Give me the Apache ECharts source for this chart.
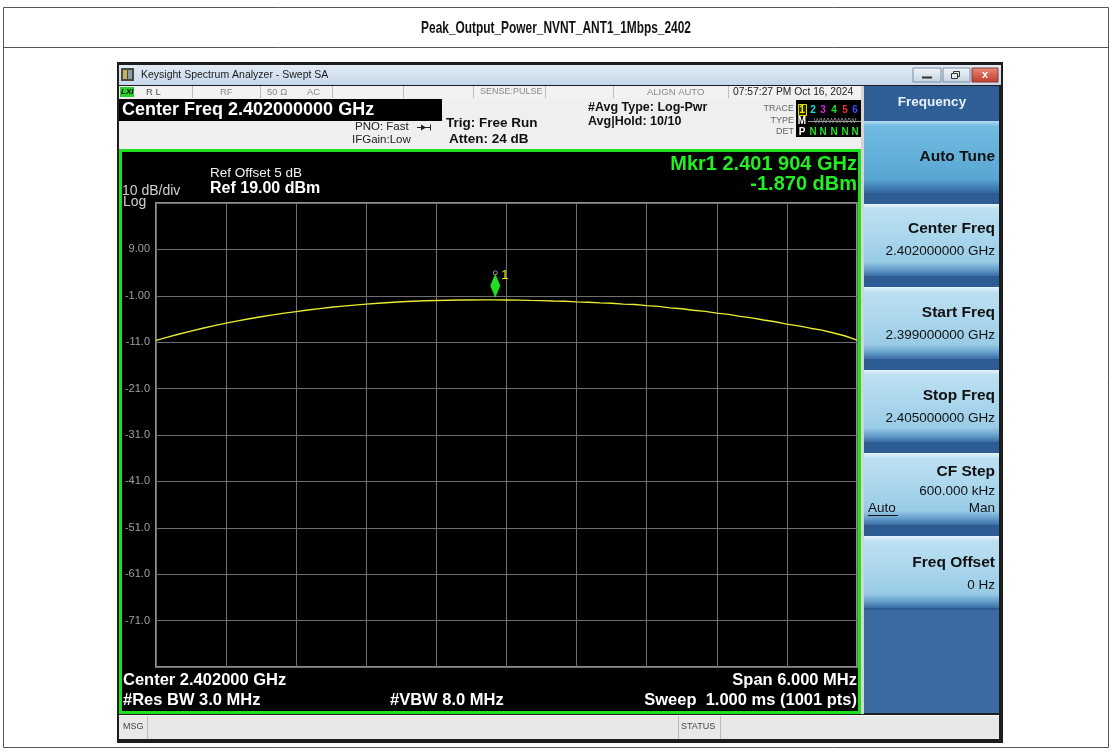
<!DOCTYPE html>
<html><head><meta charset="utf-8">
<script src="https://cdn.jsdelivr.net/npm/echarts@6/dist/echarts.min.js"></script>
<style>html,body{margin:0;padding:0;background:#fff}#c{width:1112px;height:756px}</style>
</head><body><div id="c"></div>
<script>
// ---------------- data ----------------
const chartTitle = 'Peak_Output_Power_NVNT_ANT1_1Mbps_2402';
const freqMHz = [
  2399.0,2399.1,2399.2,2399.3,2399.4,2399.5,2399.6,2399.7,2399.8,2399.9,
  2400.0,2400.1,2400.2,2400.3,2400.4,2400.5,2400.6,2400.7,2400.8,2400.9,
  2401.0,2401.1,2401.2,2401.3,2401.4,2401.5,2401.6,2401.7,2401.8,2401.9,
  2402.0,2402.1,2402.2,2402.3,2402.4,2402.5,2402.6,2402.7,2402.8,2402.9,
  2403.0,2403.1,2403.2,2403.3,2403.4,2403.5,2403.6,2403.7,2403.8,2403.9,
  2404.0,2404.1,2404.2,2404.3,2404.4,2404.5,2404.6,2404.7,2404.8,2404.9,
  2405.0];
const powerDbm = [
  -10.60,-9.91,-9.23,-8.60,-8.00,-7.43,-6.90,-6.40,-5.95,-5.52,
  -5.12,-4.74,-4.40,-4.07,-3.76,-3.48,-3.23,-3.00,-2.80,-2.60,
  -2.43,-2.29,-2.18,-2.08,-2.00,-1.95,-1.92,-1.89,-1.88,-1.87,
  -1.90,-1.93,-1.99,-2.04,-2.13,-2.19,-2.31,-2.38,-2.53,-2.60,
  -2.79,-2.86,-3.12,-3.28,-3.60,-3.78,-4.12,-4.36,-4.74,-5.00,
  -5.44,-5.76,-6.22,-6.58,-7.10,-7.48,-7.98,-8.40,-9.02,-9.66,
  -10.55];
const startFreqMHz = 2399.0;
const stopFreqMHz = 2405.0;
const xDivKHz = 600;
const refLevelDbm = 19;
const dbPerDiv = 10;
const yTickValues = [9, -1, -11, -21, -31, -41, -51, -61, -71];
const yTickLabels = ['9.00','-1.00','-11.0','-21.0','-31.0','-41.0','-51.0','-61.0','-71.0'];
const markerFreqMHz = 2401.904;
const markerPowerDbm = -1.870;

// ---------------- drawing ----------------
const F = '"Liberation Sans", Arial, sans-serif';
const G = [];
function lg(stops){ return new echarts.graphic.LinearGradient(0,0,0,1, stops.map(s=>({offset:s[0], color:s[1]}))); }
function rect(x,y,w,h,fill,stroke,lw,z){ G.push({type:'rect', z: z==null?1:z, silent:true, shape:{x:x,y:y,width:w,height:h}, style:{fill: fill||'none', stroke: stroke||'none', lineWidth: lw||0}}); }
function line(x1,y1,x2,y2,stroke,lw,z){ G.push({type:'line', z: z==null?3:z, silent:true, shape:{x1:x1,y1:y1,x2:x2,y2:y2}, style:{stroke:stroke, lineWidth: lw||1}}); }
function text(t,x,y,size,fill,o){ o=o||{}; G.push({type:'text', z:20, silent:true, x:x, y:y, scaleX:o.sx||1, style:{text:t, x:0, y:0, fill:fill, font:(o.w||'normal')+' '+size+'px '+F, align:o.a||'left', verticalAlign:'middle'}}); }

// page frame + title
rect(3.5, 7.5, 1105, 740, 'none', '#555', 1, 0);
line(3.5, 47.5, 1108.5, 47.5, '#555', 1, 0);
text(chartTitle, 556, 28, 17, '#111', {w:'bold', a:'center', sx:0.70});

// window
rect(117, 62, 886, 681, '#1d1d1d', null, 0, 0);
rect(119, 65, 882, 20, lg([[0,'#e2ebf5'],[1,'#c7d7ea']]));
rect(121, 68, 13, 13, '#4a4a3a'); rect(123, 70, 4, 9, '#c8b060'); rect(128, 70, 4, 9, '#8a9aa8');
text('Keysight Spectrum Analyzer - Swept SA', 141, 75, 10.5, '#1a1a1a');
rect(913, 68, 28, 14, lg([[0,'#f2f6fa'],[1,'#c4d2e2']]), '#7d8ea3', 1, 2);
line(922, 77.5, 932, 77.5, '#333', 2, 4);
rect(943, 68, 27, 14, lg([[0,'#f2f6fa'],[1,'#c4d2e2']]), '#7d8ea3', 1, 2);
rect(953.5, 71.5, 6, 5, 'none', '#333', 1, 4); rect(951.5, 73.5, 6, 5, '#e4ebf2', '#333', 1, 4);
rect(972, 68, 26, 14, lg([[0,'#e88a7a'],[1,'#c03a2a']]), '#8a3a30', 1, 2);
text('x', 985, 74.5, 11, '#fff', {w:'bold', a:'center'});

// status row
rect(119, 86, 743, 12, '#f2f2f2');
[192,260,332,403,473,545,613,728].forEach(x=>line(x+0.5, 86, x+0.5, 98, '#bdbdbd', 1));
rect(120, 87, 14, 10, '#2bd02b');
text('LXI', 121, 92, 8, '#000', {w:'italic bold'});
text('R L', 146, 92, 9.5, '#555');
text('RF', 220, 92, 9.5, '#888');
text('50 Ω', 267, 92, 9.5, '#888');
text('AC', 307, 92, 9.5, '#888');
text('SENSE:PULSE', 480, 92, 9, '#888');
text('ALIGN AUTO', 647, 92, 9.5, '#888');
text('07:57:27 PM Oct 16, 2024', 733, 92, 10.3, '#222');

// header
rect(119, 98, 743, 51, '#efefef');
rect(119, 99, 323, 22, '#000');
text('Center Freq 2.402000000 GHz', 122, 110.5, 18, '#fff', {w:'bold'});
text('PNO: Fast', 355, 127, 11.5, '#222');
line(417, 127.5, 431, 127.5, '#222', 1);
G.push({type:'polygon', z:4, silent:true, shape:{points:[[421,124.5],[426,127.5],[421,130.5]]}, style:{fill:'#222'}});
line(430.5, 124.5, 430.5, 130.5, '#222', 1);
text('IFGain:Low', 352, 140, 11.5, '#222');
text('Trig: Free Run', 446, 123, 13.5, '#111', {w:'bold'});
text('Atten: 24 dB', 449, 139, 13.5, '#111', {w:'bold'});
text('#Avg Type: Log-Pwr', 588, 108, 12.5, '#111', {w:'bold'});
text('Avg|Hold: 10/10', 588, 122, 12.5, '#111', {w:'bold'});
rect(796, 100, 66, 37, '#000');
text('TRACE', 794, 109, 9, '#666', {a:'right'});
text('TYPE', 794, 121, 9, '#666', {a:'right'});
text('DET', 794, 132, 9, '#666', {a:'right'});
rect(798.5, 104.5, 8, 11, '#2a2a00', '#e0e000', 1, 2);
const trColors = ['#f0f000','#10e0e0','#e020e0','#20e020','#f03030','#3a4cff'];
const trX = [802, 813, 823, 834, 845, 855];
trX.forEach((x,i)=>text(String(i+1), x, 110, 10, trColors[i], {w:'bold', a:'center'}));
text('M', 802, 121, 10, '#fff', {w:'bold', a:'center'});
text('WWWWWW', 835, 121, 7.5, '#999', {a:'center'});
line(808, 121.5, 861, 121.5, '#999', 1, 21);
text('P', 802, 132, 10, '#fff', {w:'bold', a:'center'});
trX.slice(1).forEach(x=>text('N', x, 132, 10, '#20e020', {w:'bold', a:'center'}));

// plot frame
rect(861, 86, 3, 628, '#d5d5d5');
rect(120.5, 150.5, 739, 562, '#000', '#1fe01f', 3, 1);

// softkey panel
rect(864, 86, 135, 627, '#2c5c93');
rect(864, 88, 135, 31, '#2f5f96');
text('Frequency', 932, 102, 13.5, '#e8f0f8', {w:'bold', a:'center'});
const keyTops = [121, 204, 287, 370, 453, 536];
const keyH = 72;
keyTops.forEach((t,i)=>{
  const g = i===0
    ? lg([[0,'#b4dcf1'],[0.07,'#72bbe2'],[0.5,'#62afd9'],[0.8,'#5aa6d3'],[0.9,'#4786bd'],[1,'#33669e']])
    : lg([[0,'#e6f4fb'],[0.07,'#bde0f2'],[0.5,'#a8d5ec'],[0.8,'#99cbe6'],[0.9,'#6aa3cf'],[1,'#3b6da4']]);
  rect(864, t, 135, keyH, g, null, 0, 2);
});
rect(864, 610, 135, 103, '#3a6aa1');
const KX = 995;
text('Auto Tune', KX, 157, 15.5, '#111', {w:'bold', a:'right'});
text('Center Freq', KX, 229, 15.5, '#111', {w:'bold', a:'right'});
text('2.402000000 GHz', KX, 251, 13.5, '#111', {a:'right'});
text('Start Freq', KX, 313, 15.5, '#111', {w:'bold', a:'right'});
text('2.399000000 GHz', KX, 335, 13.5, '#111', {a:'right'});
text('Stop Freq', KX, 396, 15.5, '#111', {w:'bold', a:'right'});
text('2.405000000 GHz', KX, 418, 13.5, '#111', {a:'right'});
text('CF Step', KX, 472, 15.5, '#111', {w:'bold', a:'right'});
text('600.000 kHz', KX, 491, 13.5, '#111', {a:'right'});
text('Auto', 868, 508, 13.5, '#111');
line(868, 515.5, 898, 515.5, '#111', 1, 21);
text('Man', KX, 508, 13.5, '#111', {a:'right'});
text('Freq Offset', KX, 563, 15.5, '#111', {w:'bold', a:'right'});
text('0 Hz', KX, 585, 13.5, '#111', {a:'right'});

// msg bar
rect(119, 715, 880, 24, '#e8e8e8');
line(119, 715.5, 999, 715.5, '#f8f8f8', 1);
[147, 678, 720].forEach(x=>line(x+0.5, 716, x+0.5, 739, '#bdbdbd', 1));
text('MSG', 123, 727, 9, '#444');
text('STATUS', 681, 727, 9, '#444');

// plot annotations
text('Ref Offset 5 dB', 210, 173, 13.5, '#f2f2f2');
text('10 dB/div', 122, 191, 14, '#cfcfcf');
text('Ref 19.00 dBm', 210, 189, 16, '#fff', {w:'bold'});
text('Log', 123, 202, 14, '#cfcfcf');
text('Mkr1 2.401 904 GHz', 857, 164, 20, '#22ee22', {w:'bold', a:'right'});
text('-1.870 dBm', 857, 184, 20, '#22ee22', {w:'bold', a:'right'});
text('Center 2.402000 GHz', 123, 680, 16.5, '#fff', {w:'bold'});
text('#Res BW 3.0 MHz', 123, 700, 16.5, '#fff', {w:'bold'});
text('#VBW 8.0 MHz', 390, 700, 16.5, '#fff', {w:'bold'});
text('Span 6.000 MHz', 857, 680, 16.5, '#fff', {w:'bold', a:'right'});
text('Sweep  1.000 ms (1001 pts)', 857, 700, 16.5, '#fff', {w:'bold', a:'right'});

const toKHz = f => Math.round((f - startFreqMHz) * 1000);
const seriesData = freqMHz.map((f,i)=>[toKHz(f), powerDbm[i]]);
const yMin = refLevelDbm - 10*dbPerDiv;

const chart = echarts.init(document.getElementById('c'), null, {renderer:'canvas'});
chart.setOption({
  animation: false,
  backgroundColor: '#ffffff',
  graphic: { elements: G },
  grid: { left:156, top:203, width:701, height:464, show:true, z:5,
          backgroundColor:'transparent', borderColor:'#8c8c8c', borderWidth:2, containLabel:false, outerBoundsMode:'none' },
  xAxis: { type:'value', min:0, max:toKHz(stopFreqMHz), interval:xDivKHz, z:5,
           axisLine:{show:false}, axisTick:{show:false}, axisLabel:{show:false},
           splitLine:{show:true, lineStyle:{color:'#6f6f6f', width:1}} },
  yAxis: { type:'value', min:yMin, max:refLevelDbm, interval:dbPerDiv, z:5,
           axisLine:{show:false}, axisTick:{show:false},
           axisLabel:{show:true, margin:6, color:'#a0a0a0', fontSize:11, fontFamily:F,
             formatter: v => { const i = yTickValues.indexOf(Math.round(v)); return i>=0 ? yTickLabels[i] : ''; } },
           splitLine:{show:true, lineStyle:{color:'#6f6f6f', width:1}} },
  series: [{
    type:'line', z:8, data: seriesData, showSymbol:false, clip:true,
    lineStyle:{color:'#eaea30', width:1.4}, itemStyle:{color:'#eaea30'},
    markPoint: {
      silent:true,
      data: [
        { coord:[toKHz(markerFreqMHz), markerPowerDbm], symbol:'diamond', symbolSize:[10,24], symbolOffset:[0,-14],
          itemStyle:{color:'#1fe01f'},
          label:{show:true, formatter:'1', position:[11,-5], color:'#f0f000', fontSize:13, fontFamily:F} },
        { coord:[toKHz(markerFreqMHz), markerPowerDbm], symbol:'circle', symbolSize:4, symbolOffset:[0,-27],
          itemStyle:{color:'none', borderColor:'#9a9a9a', borderWidth:1}, label:{show:false} }
      ]
    }
  }]
});
</script></body></html>
